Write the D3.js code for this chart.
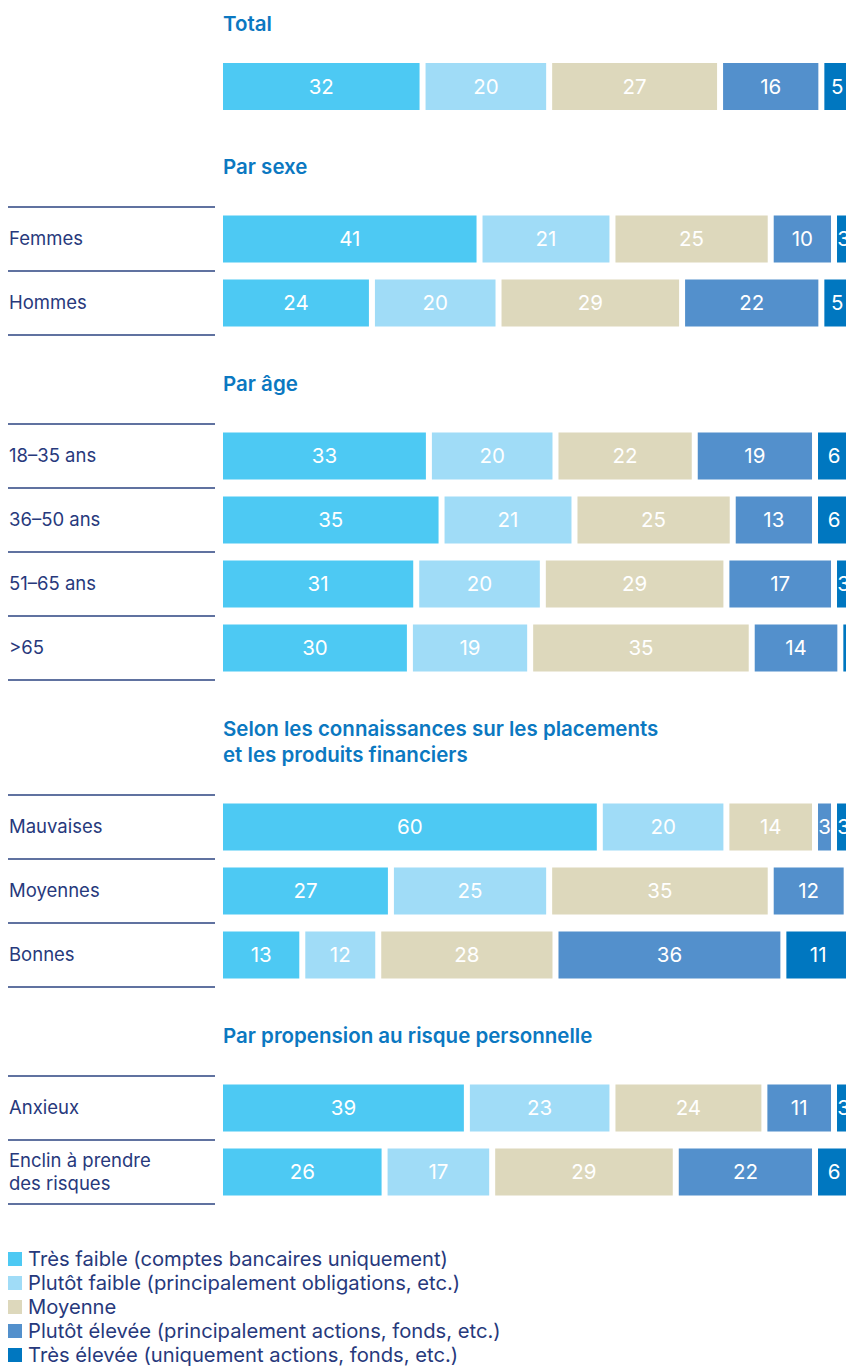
<!DOCTYPE html>
<html>
<head>
<meta charset="utf-8">
<script src="https://cdn.jsdelivr.net/npm/d3@7"></script>
<style>
  body { margin: 0; background: #fff; }
  svg { display: block; font-family: Inter, "Noto Sans", sans-serif; }
</style>
</head>
<body>
<div id="chart"></div>
<script>
// categories (legend order = stacking order)
var categories = [
    "Très faible (comptes bancaires uniquement)",
    "Plutôt faible (principalement obligations, etc.)",
    "Moyenne",
    "Plutôt élevée (principalement actions, fonds, etc.)",
    "Très élevée (uniquement actions, fonds, etc.)"
];
var colors = ["#4dc9f3", "#a0dcf7", "#ddd8bc", "#5390cc", "#0077c0"];

// one array per block
var totalLabels = [""];
var totalValues = [[32, 20, 27, 16, 5]];

var sexeLabels = ["Femmes", "Hommes"];
var sexeValues = [[41, 21, 25, 10, 3], [24, 20, 29, 22, 5]];

var ageLabels = ["18–35 ans", "36–50 ans", "51–65 ans", ">65"];
var ageValues = [
    [33, 20, 22, 19, 6],
    [35, 21, 25, 13, 6],
    [31, 20, 29, 17, 3],
    [30, 19, 35, 14, 2]
];

var savoirLabels = ["Mauvaises", "Moyennes", "Bonnes"];
var savoirValues = [
    [60, 20, 14, 3, 3],
    [27, 25, 35, 12, 1],
    [13, 12, 28, 36, 11]
];

var risqueLabels = ["Anxieux", "Enclin à prendre\ndes risques"];
var risqueValues = [[39, 23, 24, 11, 3], [26, 17, 29, 22, 6]];

var sections = [
    {title: ["Total"], labels: totalLabels, values: totalValues, lines: false},
    {title: ["Par sexe"], labels: sexeLabels, values: sexeValues, lines: true},
    {title: ["Par âge"], labels: ageLabels, values: ageValues, lines: true},
    {title: ["Selon les connaissances sur les placements", "et les produits financiers"], labels: savoirLabels, values: savoirValues, lines: true},
    {title: ["Par propension au risque personnelle"], labels: risqueLabels, values: risqueValues, lines: true}
];

var width = 846, height = 1371;
var rowH = 64, barH = 47, gap = 6;
var titleColor = "#0b78c1", navy = "#27397c";

var x = d3.scaleLinear().domain([0, 100]).range([223, 856]);
var color = d3.scaleOrdinal().domain(categories).range(colors);

var svg = d3.select("#chart")
    .append("svg")
    .attr("width", width)
    .attr("height", height);

var y = 24;
sections.forEach(function(sec) {
    var g = svg.append("g");

    // section title
    g.selectAll(".title")
        .data(sec.title)
        .enter()
        .append("text")
        .attr("x", 223)
        .attr("y", function(d, i) { return y + i * 26; })
        .attr("dy", "0.35em")
        .attr("fill", titleColor)
        .attr("font-size", 20.5)
        .attr("font-weight", 600)
        .text(function(d) { return d; });

    var top = y + (sec.title.length - 1) * 26;
    var rowTop, barOff;
    if (sec.lines) {
        rowTop = top + 40;
        barOff = (rowH - barH) / 2;
    } else {
        rowTop = top + 39;
        barOff = 0;
    }

    sec.values.forEach(function(vals, r) {
        var y0 = rowTop + r * rowH;
        var stack = d3.cumsum(vals);
        var segs = vals.map(function(v, i) {
            return {v: v, start: stack[i] - v, cat: categories[i]};
        });

        var row = g.append("g");
        row.selectAll("rect")
            .data(segs)
            .enter()
            .append("rect")
            .attr("x", function(d) { return x(d.start); })
            .attr("y", y0 + barOff)
            .attr("width", function(d) { return Math.max(0, x(d.v) - x(0) - gap); })
            .attr("height", barH)
            .attr("fill", function(d) { return color(d.cat); });

        // value labels, centred in each segment (some fall off the right edge, as in the original)
        row.selectAll(".val")
            .data(segs.filter(function(d) { return x(d.start) + (x(d.v) - x(0) - gap) / 2 < width; }))
            .enter()
            .append("text")
            .attr("x", function(d) { return x(d.start) + (x(d.v) - x(0) - gap) / 2; })
            .attr("y", y0 + barOff + barH / 2)
            .attr("dy", "0.36em")
            .attr("text-anchor", "middle")
            .attr("fill", "white")
            .attr("font-size", 20.5)
            .text(function(d) { return d.v; });

        if (sec.lines) {
            var lbl = sec.labels[r].split("\n");
            row.selectAll(".lbl")
                .data(lbl)
                .enter()
                .append("text")
                .attr("x", 9)
                .attr("y", function(d, i) { return y0 + rowH / 2 + (i - (lbl.length - 1) / 2) * 23; })
                .attr("dy", "0.35em")
                .attr("fill", navy)
                .attr("font-size", 18.5)
                .text(function(d) { return d; });
        }
    });

    var n = sec.values.length;
    if (sec.lines) {
        g.selectAll("line")
            .data(d3.range(n + 1))
            .enter()
            .append("line")
            .attr("x1", 8).attr("x2", 215)
            .attr("y1", function(d) { return rowTop + d * rowH; })
            .attr("y2", function(d) { return rowTop + d * rowH; })
            .attr("stroke", "#2b4380")
            .attr("stroke-width", 1.5);
        y = rowTop + n * rowH + 49;
    } else {
        y = rowTop + barH + 57;
    }
});

// legend
var legendTop = 1259;
var legend = svg.append("g")
    .selectAll("g")
    .data(categories)
    .enter()
    .append("g")
    .attr("transform", function(d, i) { return "translate(8," + (legendTop + i * 24) + ")"; });

legend.append("rect")
    .attr("x", 0).attr("y", -7)
    .attr("width", 14).attr("height", 14)
    .attr("fill", function(d) { return color(d); });

legend.append("text")
    .attr("x", 20)
    .attr("dy", "0.35em")
    .attr("fill", navy)
    .attr("font-size", 20.2)
    .text(function(d) { return d; });
</script>
</body>
</html>
